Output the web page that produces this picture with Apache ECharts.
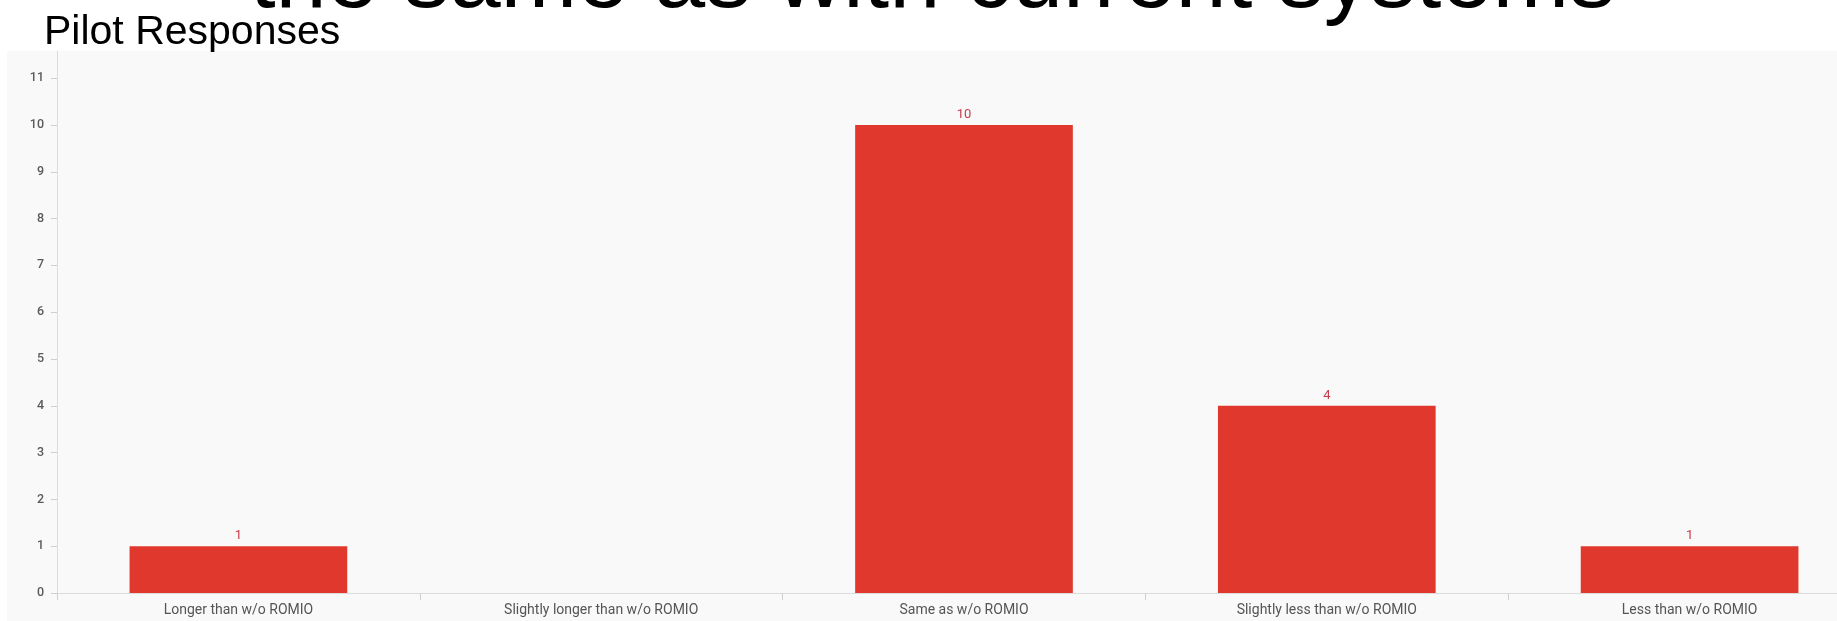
<!DOCTYPE html>
<html>
<head>
<meta charset="utf-8">
<title>Pilot Responses</title>
<script src="https://cdn.jsdelivr.net/npm/echarts@6.0.0/dist/echarts.min.js"></script>
<style>
	html, body { margin: 0; padding: 0; background: #fff; }
	#wrap { position: relative; width: 1837px; height: 621px; overflow: hidden; }
	#panel { position: absolute; left: 7px; top: 51px; right: 0; bottom: 0; background: #f9f9f9; }
	#chart { position: absolute; left: 0; top: 0; width: 1837px; height: 621px; }
</style>
</head>
<body>
<div id="wrap">
	<div id="panel"></div>
	<div id="chart"></div>
</div>
<script>
	// answers and how many pilots picked each one
	const categories = ['Longer than w/o ROMIO', 'Slightly longer than w/o ROMIO', 'Same as w/o ROMIO', 'Slightly less than w/o ROMIO', 'Less than w/o ROMIO']
	const counts = [1, 0, 10, 4, 1]
	const yTicks = [0, 1, 2, 3, 4, 5, 6, 7, 8, 9, 10, 11]
	const yMax = 11.58

	const chart = echarts.init(document.getElementById('chart'), null, { renderer: 'canvas' })

	const option = {
		backgroundColor: 'transparent',
		animation: false,
		title: [{
			// slide heading, cut off by the top of the picture
			text: 'the same as with current systems',
			left: 250,
			top: -64,
			padding: 0,
			textStyle: { fontFamily: 'Liberation Sans', fontSize: 92, lineHeight: 92, fontWeight: 'normal', color: '#000' }
		}, {
			text: 'Pilot Responses',
			left: 44,
			top: 12,
			padding: 0,
			textStyle: { fontFamily: 'Liberation Sans', fontSize: 41, lineHeight: 41, fontWeight: 'normal', color: '#000' }
		}],
		grid: {
			left: 57,
			top: 51,
			width: 1814,
			bottom: 28,
			containLabel: false,
			outerBoundsMode: 'none'
		},
		xAxis: {
			type: 'category',
			data: categories,
			axisLine: { lineStyle: { color: '#dcdcdc', width: 1 } },
			axisTick: { show: true, length: 7, lineStyle: { color: '#cfcfcf' } },
			axisLabel: { color: '#555', fontFamily: 'Roboto', fontSize: 14, margin: 10, interval: 0 }
		},
		yAxis: {
			type: 'value',
			min: 0,
			max: yMax,
			splitLine: { show: false },
			axisLine: { show: true, lineStyle: { color: '#dcdcdc', width: 1 } },
			axisTick: { show: true, length: 6, customValues: yTicks, lineStyle: { color: '#cfcfcf' } },
			axisLabel: { customValues: yTicks, color: '#5a5a5a', fontFamily: 'Roboto', fontSize: 12.5, fontWeight: 500, margin: 13 }
		},
		series: [{
			type: 'bar',
			data: counts,
			barCategoryGap: '40%',
			itemStyle: { color: '#e1382e' },
			label: {
				show: true,
				position: 'top',
				distance: 4,
				color: '#c93a4c',
				fontFamily: 'Roboto',
				fontSize: 13,
				formatter: p => (p.value > 0 ? p.value : '')
			}
		}]
	}

	chart.setOption(option)
</script>
</body>
</html>
